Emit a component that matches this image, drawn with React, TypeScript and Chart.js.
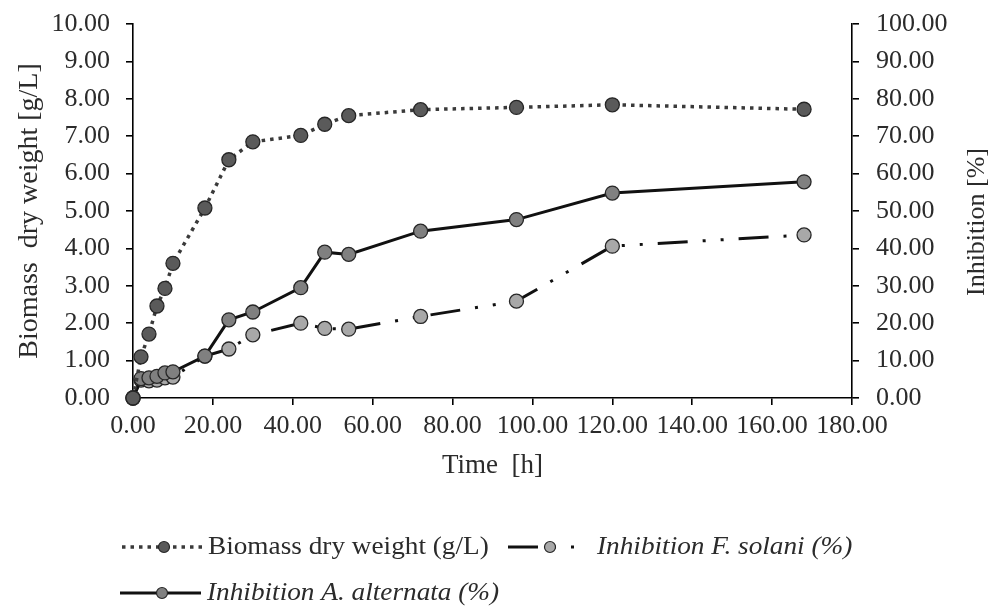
import React, { useEffect, useRef } from "react";
import { Chart, registerables } from "chart.js";

Chart.register(...registerables);

const timeHours = [0, 2, 4, 6, 8, 10, 18, 24, 30, 42, 48, 54, 72, 96, 120, 168];
const biomassGL = [0, 1.1, 1.71, 2.46, 2.93, 3.6, 5.08, 6.37, 6.85, 7.02, 7.32, 7.55, 7.71, 7.77, 7.84, 7.72];
const inhibFSolani = [0, 4.8, 4.6, 4.8, 5.4, 5.6, 11.2, 13.1, 16.9, 20.0, 18.6, 18.4, 21.8, 25.9, 40.6, 43.6];
const inhibAAlternata = [0, 5.2, 5.4, 5.8, 6.7, 7.0, 11.2, 20.9, 23.0, 29.5, 39.0, 38.4, 44.6, 47.7, 54.8, 57.8];

const seriesLabels = [
  "Biomass dry weight (g/L)",
  "Inhibition F. solani (%)",
  "Inhibition A. alternata (%)",
];
const rightAxisTitle = "Inhibition [%]";

const SERIF = "'Liberation Serif', 'Times New Roman', serif";
const TEXT = "#2b2b2b";

const toPoints = (ys: number[]) => timeHours.map((x, i) => ({ x, y: ys[i] }));

const legendPlugin = {
  id: "customLegend",
  afterDraw(chart: any) {
    const ctx = chart.ctx as CanvasRenderingContext2D;
    const ds = chart.data.datasets;
    const items = [
      { i: 0, x0: 122, x1: 203, mx: 164, y: 547, tx: 208, italic: false },
      { i: 1, x0: 508, x1: 580, mx: 550, y: 547, tx: 597, italic: true },
      { i: 2, x0: 120, x1: 201, mx: 162, y: 593, tx: 207, italic: true },
    ];
    ctx.save();
    for (const it of items) {
      const d = ds[it.i];
      ctx.beginPath();
      ctx.setLineDash(d.borderDash || []);
      ctx.lineDashOffset = 0;
      ctx.strokeStyle = d.borderColor;
      ctx.lineWidth = d.borderWidth;
      ctx.lineCap = "butt";
      ctx.moveTo(it.x0, it.y);
      ctx.lineTo(it.x1, it.y);
      ctx.stroke();
      ctx.setLineDash([]);
      ctx.beginPath();
      ctx.arc(it.mx, it.y, 5.5, 0, Math.PI * 2);
      ctx.fillStyle = d.pointBackgroundColor;
      ctx.fill();
      ctx.lineWidth = 1.2;
      ctx.strokeStyle = d.pointBorderColor;
      ctx.stroke();
      ctx.save();
      ctx.translate(it.tx, it.y);
      ctx.scale(1.09, 1);
      ctx.font = `${it.italic ? "italic " : ""}25px ${SERIF}`;
      ctx.fillStyle = TEXT;
      ctx.textAlign = "left";
      ctx.textBaseline = "middle";
      ctx.fillText(d.label, 0, 0);
      ctx.restore();
    }
    // right axis title, reading bottom to top
    ctx.save();
    ctx.translate(977, 222);
    ctx.rotate(-Math.PI / 2);
    ctx.font = `26px ${SERIF}`;
    ctx.fillStyle = TEXT;
    ctx.textAlign = "center";
    ctx.textBaseline = "middle";
    ctx.fillText(rightAxisTitle, 0, 0);
    ctx.restore();
    ctx.restore();
  },
};

export default function App() {
  const canvasRef = useRef<HTMLCanvasElement | null>(null);

  useEffect(() => {
    const canvas = canvasRef.current;
    if (!canvas) return;
    const tickFont = { family: SERIF, size: 26 };
    const titleFont = { family: SERIF, size: 27 };
    const axisCommon = () => ({
      border: { display: true, color: "#000", width: 1.6 },
      grid: { drawOnChartArea: false, drawTicks: true, tickLength: 7, color: "#000", lineWidth: 1.6 },
    });
    const chart = new Chart(canvas, {
      type: "line",
      data: {
        datasets: [
          {
            label: seriesLabels[0],
            data: toPoints(biomassGL),
            yAxisID: "y",
            borderColor: "#3a3a3a",
            borderWidth: 3.5,
            borderDash: [3.5, 5],
            pointRadius: 7,
            pointBackgroundColor: "#5a5a5a",
            pointBorderColor: "#262626",
            pointBorderWidth: 1.3,
            clip: false,
            order: 1,
          },
          {
            label: seriesLabels[1],
            data: toPoints(inhibFSolani),
            yAxisID: "y1",
            borderColor: "#111",
            borderWidth: 3,
            borderDash: [30, 15, 3, 15, 3, 15],
            pointRadius: 7,
            pointBackgroundColor: "#a8a8a8",
            pointBorderColor: "#262626",
            pointBorderWidth: 1.3,
            clip: false,
            order: 3,
          },
          {
            label: seriesLabels[2],
            data: toPoints(inhibAAlternata),
            yAxisID: "y1",
            borderColor: "#111",
            borderWidth: 3,
            pointRadius: 7,
            pointBackgroundColor: "#808080",
            pointBorderColor: "#262626",
            pointBorderWidth: 1.3,
            clip: false,
            order: 2,
          },
        ],
      },
      options: {
        responsive: false,
        animation: false,
        devicePixelRatio: 1,
        layout: { padding: { top: 24, bottom: 119, left: 0, right: 0 } },
        plugins: { legend: { display: false }, tooltip: { enabled: false } },
        elements: { line: { tension: 0 } },
        scales: {
          x: {
            type: "linear",
            position: "bottom",
            min: 0,
            max: 180,
            ...axisCommon(),
            ticks: {
              stepSize: 20,
              font: tickFont,
              color: TEXT,
              padding: 6,
              maxRotation: 0,
              autoSkip: false,
              callback: (v: any) => Number(v).toFixed(2),
            },
            title: { display: true, text: "Time  [h]", font: titleFont, color: TEXT, padding: { top: 0, bottom: 6 } },
            afterFit: (s: any) => { s.height = 90; },
          },
          y: {
            type: "linear",
            position: "left",
            min: 0,
            max: 10,
            ...axisCommon(),
            ticks: {
              stepSize: 1,
              font: tickFont,
              color: TEXT,
              padding: 16,
              callback: (v: any) => Number(v).toFixed(2),
            },
            title: { display: true, text: "Biomass  dry weight [g/L]", font: { family: SERIF, size: 28 }, color: TEXT, padding: { top: 13, bottom: 0 } },
            afterFit: (s: any) => { s.width = 133; s.paddingTop = 10; s.paddingBottom = 10; },
          },
          y1: {
            type: "linear",
            position: "right",
            min: 0,
            max: 100,
            ...axisCommon(),
            ticks: {
              stepSize: 10,
              font: tickFont,
              color: TEXT,
              padding: 17,
              callback: (v: any) => Number(v).toFixed(2),
            },
            title: { display: false },
            afterFit: (s: any) => { s.width = 148; s.paddingTop = 10; s.paddingBottom = 10; },
          },
        },
      },
      plugins: [legendPlugin],
    } as any);
    return () => chart.destroy();
  }, []);

  return (
    <div style={{ position: "absolute", left: 0, top: 0, width: 1000, height: 607, background: "#fff" }}>
      <canvas ref={canvasRef} width={1000} height={607} style={{ display: "block", width: 1000, height: 607 }} />
    </div>
  );
}
